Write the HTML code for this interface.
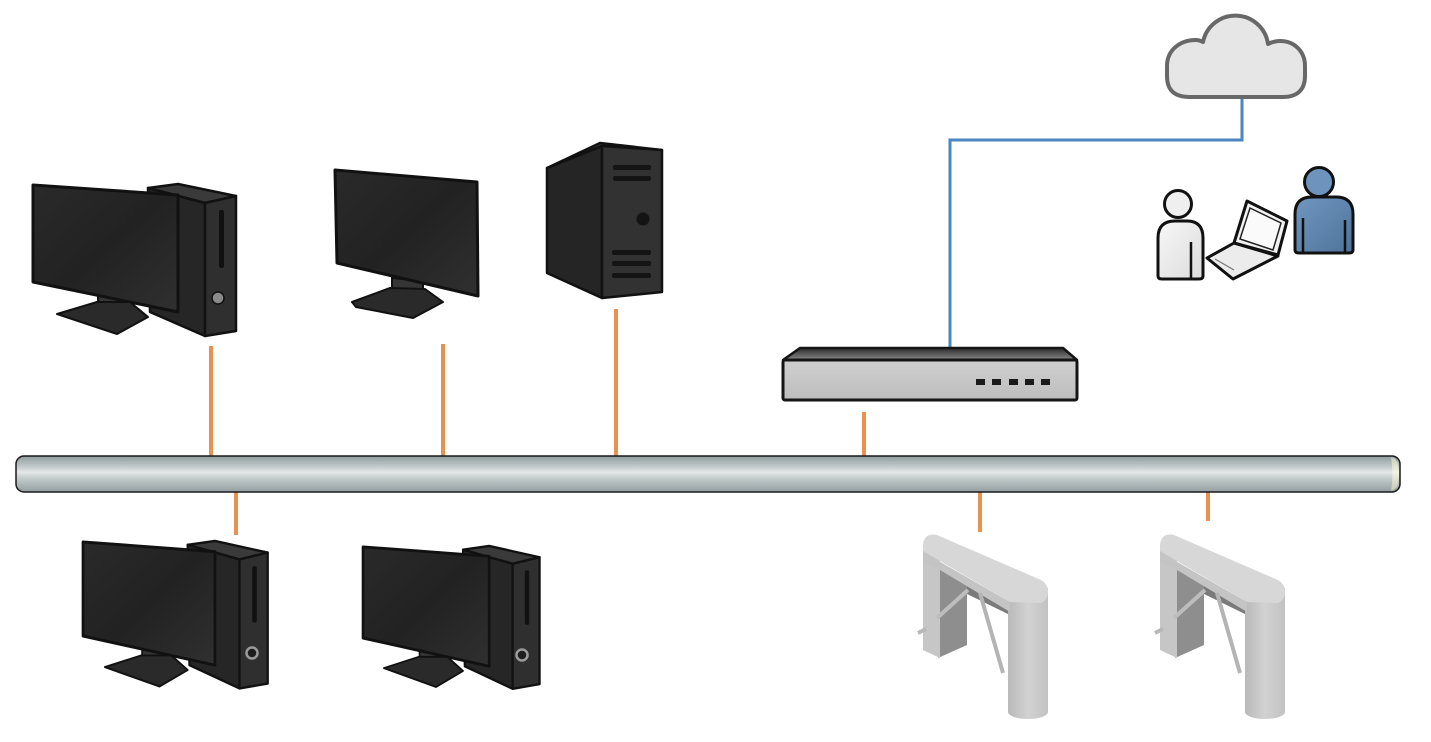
<!DOCTYPE html>
<html><head><meta charset="utf-8"><style>
html,body{margin:0;padding:0;background:#fff;}
svg{display:block;}
</style></head><body>
<svg width="1431" height="742" viewBox="0 0 1431 742" xmlns="http://www.w3.org/2000/svg">
<defs>
 <linearGradient id="scr" x1="0" y1="0" x2="1" y2="1">
  <stop offset="0" stop-color="#2a2a2a"/><stop offset="0.5" stop-color="#222"/><stop offset="1" stop-color="#303030"/>
 </linearGradient>
 <linearGradient id="bus" x1="0" y1="0" x2="0" y2="1">
  <stop offset="0" stop-color="#8f9b9d"/><stop offset="0.3" stop-color="#c3cbcb"/><stop offset="0.45" stop-color="#e3e8e7"/><stop offset="0.6" stop-color="#c6cece"/><stop offset="1" stop-color="#939ea0"/>
 </linearGradient>
 <linearGradient id="cap" x1="0" y1="0" x2="0" y2="1">
  <stop offset="0" stop-color="#c9ccb8"/><stop offset="0.45" stop-color="#f2f3e0"/><stop offset="1" stop-color="#c5c8b4"/>
 </linearGradient>
 <linearGradient id="pil" x1="0" y1="0" x2="1" y2="0">
  <stop offset="0" stop-color="#b9b9b9"/><stop offset="0.5" stop-color="#d2d2d2"/><stop offset="1" stop-color="#c2c2c2"/>
 </linearGradient>
 <linearGradient id="rtop" x1="0" y1="0" x2="0" y2="1">
  <stop offset="0" stop-color="#2a2a2a"/><stop offset="1" stop-color="#8a8a8a"/>
 </linearGradient>
 <linearGradient id="rfront" x1="0" y1="0" x2="0" y2="1">
  <stop offset="0" stop-color="#d0d0d0"/><stop offset="1" stop-color="#bdbdbd"/>
 </linearGradient>
 <linearGradient id="blue" x1="0" y1="0" x2="1" y2="1">
  <stop offset="0" stop-color="#7097c0"/><stop offset="1" stop-color="#4f739b"/>
 </linearGradient>
 <linearGradient id="wht" x1="0" y1="0" x2="1" y2="1">
  <stop offset="0" stop-color="#f7f7f7"/><stop offset="1" stop-color="#dcdcdc"/>
 </linearGradient>

 <g id="pc">
  <polygon points="148,188 178,184 236,196 205,203" fill="#3a3a3a" stroke="#111" stroke-width="2.5" stroke-linejoin="round"/>
  <polygon points="148,188 205,203 205,336 150,312" fill="#262626" stroke="#111" stroke-width="2.5" stroke-linejoin="round"/>
  <polygon points="205,203 236,196 236,331 205,336" fill="#2f2f2f" stroke="#111" stroke-width="2.5" stroke-linejoin="round"/>
  <rect x="219" y="210" width="5" height="58" rx="2" fill="#111"/>
  <polygon points="98,290 127,295 127,316 98,313" fill="#353535" stroke="#111" stroke-width="2"/>
  <polygon points="33,185 178,195 178,312 33,282" fill="url(#scr)" stroke="#111" stroke-width="3" stroke-linejoin="round"/>
  <polygon points="57,314 97,302 130,302 148,317 117,334" fill="#2a2a2a" stroke="#111" stroke-width="2" stroke-linejoin="round"/>
 </g>

 <g id="ts">
  <polygon points="938,566 967,582 967,645 938,658" fill="#8e8e8e"/>
  <polygon points="967,585 1010,606 1010,615 967,594" fill="#7b7b7b"/>
  <path d="M1008,595 L1048,588 L1048,712 A20,7 0 0 1 1008,712 Z" fill="url(#pil)"/>
  <polygon points="923,548 940,560 940,658 923,650" fill="#c6c6c6"/>
  <path d="M923,552 L1010,602 L1010,612 L940,570 L923,562 Z" fill="#c4c4c4"/>
  <path d="M923,551 L923,546 C923,537 929,533 937,535 L1041,580 C1050,585 1051,598 1041,603 L1010,602 Z" fill="#d7d7d7"/>
  <line x1="968" y1="590" x2="937" y2="618" stroke="#bdbdbd" stroke-width="4"/>
  <line x1="980" y1="593" x2="1003" y2="673" stroke="#b4b4b4" stroke-width="4"/>
  <line x1="918" y1="633" x2="926" y2="629" stroke="#b8b8b8" stroke-width="4"/>
 </g>
</defs>

<rect width="1431" height="742" fill="#fff"/>

<!-- orange connectors -->
<g stroke="#ec9050" stroke-width="4">
 <line x1="211" y1="346" x2="211" y2="460"/>
 <line x1="443" y1="344" x2="443" y2="460"/>
 <line x1="616" y1="309" x2="616" y2="460"/>
 <line x1="864" y1="412" x2="864" y2="460"/>
 <line x1="236" y1="488" x2="236" y2="535"/>
 <line x1="980" y1="488" x2="980" y2="532"/>
 <line x1="1208" y1="488" x2="1208" y2="521"/>
</g>

<!-- bus -->
<rect x="16" y="456" width="1384" height="36" rx="8" fill="url(#bus)" stroke="#1a1a1a" stroke-width="1.5"/>
<path d="M1391,457.5 Q1399,458 1399,474 Q1399,490 1391,490.5 Q1394,474 1391,457.5 Z" fill="url(#cap)"/>

<!-- top-left PC -->
<use href="#pc"/>
<circle cx="218" cy="298" r="6" fill="#8a8a8a" stroke="#111" stroke-width="1.5"/>

<!-- bottom PCs -->
<use href="#pc" transform="translate(52.97,362.49) scale(0.91,0.97)"/>
<circle cx="252" cy="653" r="5.5" fill="#1d1d1d" stroke="#9a9a9a" stroke-width="2.5"/>
<use href="#pc" transform="translate(334.29,372.98) scale(0.87,0.94)"/>
<circle cx="522" cy="655" r="5.5" fill="#1d1d1d" stroke="#9a9a9a" stroke-width="2.5"/>

<!-- monitor 2 -->
<polygon points="392,278 423,281 423,299 392,296" fill="#353535" stroke="#111" stroke-width="2"/>
<polygon points="335,170 477,182 478,296 337,263" fill="url(#scr)" stroke="#111" stroke-width="3" stroke-linejoin="round"/>
<polygon points="352,302 390,288 425,289 443,302 413,318 356,307" fill="#2a2a2a" stroke="#111" stroke-width="2" stroke-linejoin="round"/>

<!-- server tower -->
<polygon points="547,168 600,143 662,150 602,146" fill="#3a3a3a" stroke="#111" stroke-width="2.5" stroke-linejoin="round"/>
<polygon points="547,168 602,146 602,298 547,273" fill="#252525" stroke="#111" stroke-width="2.5" stroke-linejoin="round"/>
<polygon points="602,146 662,150 662,292 602,298" fill="#323232" stroke="#111" stroke-width="2.5" stroke-linejoin="round"/>
<g fill="#141414">
 <rect x="613" y="165" width="38" height="5" rx="2"/>
 <rect x="613" y="176" width="38" height="5" rx="2"/>
 <rect x="612" y="250" width="39" height="5" rx="2"/>
 <rect x="612" y="261" width="39" height="5" rx="2"/>
 <rect x="612" y="273" width="39" height="5" rx="2"/>
 <circle cx="643" cy="219" r="6.5"/>
</g>

<!-- blue link -->
<polyline points="950,350 950,140 1242,140 1242,96" fill="none" stroke="#4a86c0" stroke-width="3"/>

<!-- router -->
<polygon points="800,348 1063,348 1077,360 783,360" fill="url(#rtop)" stroke="#151515" stroke-width="2.5" stroke-linejoin="round"/>
<rect x="783" y="360" width="294" height="40" rx="2" fill="url(#rfront)" stroke="#151515" stroke-width="3"/>
<g fill="#1a1a1a">
 <rect x="976" y="379" width="9" height="6"/>
 <rect x="992" y="379" width="9" height="6"/>
 <rect x="1009" y="379" width="9" height="6"/>
 <rect x="1025" y="379" width="9" height="6"/>
 <rect x="1041" y="379" width="9" height="6"/>
</g>

<!-- cloud -->
<path d="M1190,97 C1172,97 1167,88 1167,76 L1167,66 C1167,50 1180,40 1196,40 C1199,40 1201,41 1203,42 A33,33 0 0 1 1268,44 C1272,42 1276,41 1280,41 C1295,41 1305,52 1305,66 L1305,76 C1305,89 1298,97 1283,97 Z" fill="#e6e6e6" stroke="#686868" stroke-width="4" stroke-linejoin="round"/>

<!-- white person -->
<path d="M1158,276 L1158,238 Q1158,221 1175,221 L1187,221 Q1203,221 1203,238 L1203,276 Q1203,279 1199,279 L1162,279 Q1158,279 1158,276 Z" fill="url(#wht)" stroke="#111" stroke-width="3" stroke-linejoin="round"/>
<line x1="1191" y1="242" x2="1191" y2="278" stroke="#111" stroke-width="2.5"/>
<circle cx="1178" cy="204" r="13.5" fill="#efefef" stroke="#111" stroke-width="3"/>

<!-- laptop -->
<polygon points="1234,243 1247,201 1287,221 1278,255" fill="#f2f2f2" stroke="#111" stroke-width="3" stroke-linejoin="round"/>
<polygon points="1240,239 1250,208 1281,223 1273,250" fill="#fafafa" stroke="#222" stroke-width="1.5"/>
<polygon points="1207,258 1234,243 1278,256 1233,279" fill="#ececec" stroke="#111" stroke-width="3" stroke-linejoin="round"/>
<line x1="1215" y1="259" x2="1234" y2="270" stroke="#777" stroke-width="1.2"/>

<!-- blue person -->
<path d="M1295,250 L1295,214 Q1295,197 1312,197 L1336,197 Q1353,197 1353,214 L1353,250 Q1353,253 1349,253 L1299,253 Q1295,253 1295,250 Z" fill="url(#blue)" stroke="#111" stroke-width="3" stroke-linejoin="round"/>
<line x1="1303" y1="218" x2="1303" y2="252" stroke="#111" stroke-width="2.5"/>
<line x1="1345" y1="220" x2="1345" y2="252" stroke="#111" stroke-width="2.5"/>
<circle cx="1319" cy="182" r="14.5" fill="#6e94bd" stroke="#111" stroke-width="3"/>

<!-- turnstiles -->
<use href="#ts"/>
<use href="#ts" transform="translate(237,0)"/>
</svg>
</body></html>
